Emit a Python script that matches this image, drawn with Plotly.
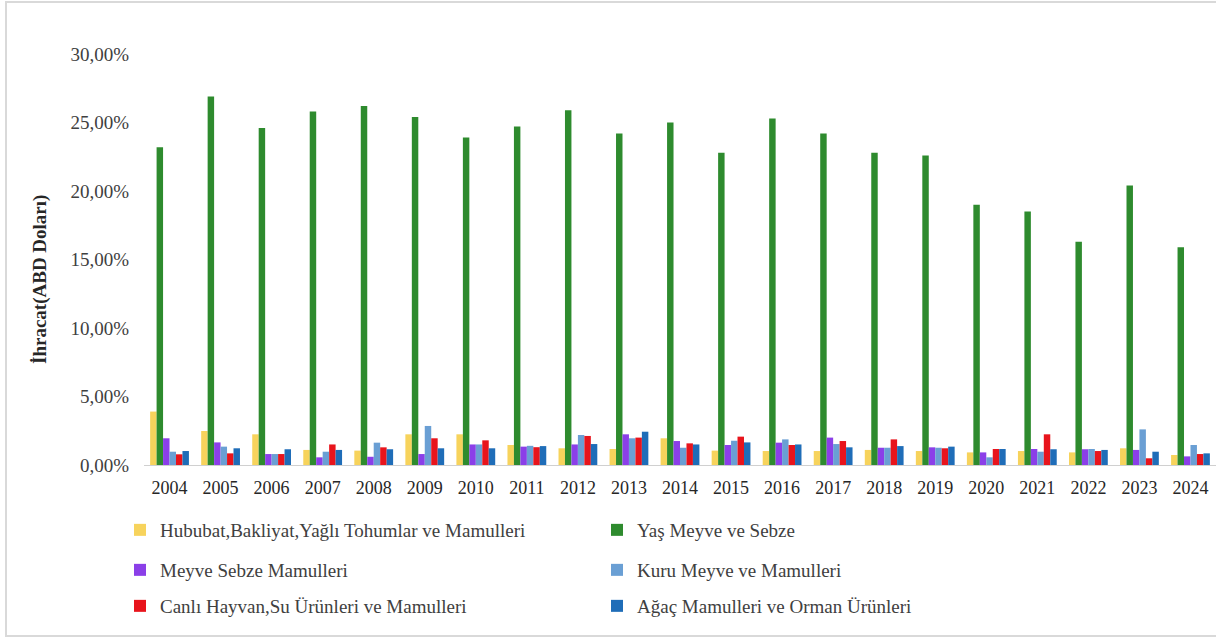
import plotly.graph_objects as go

years = [str(y) for y in range(2004, 2025)]

hububat = [3.9, 2.48, 2.24, 1.1, 1.05, 2.24, 2.24, 1.46, 1.22, 1.17, 1.95, 1.05, 1.02, 1.02, 1.1, 1.02, 0.92, 1.02, 0.92, 1.22, 0.73]
yas_meyve = [23.2, 26.9, 24.6, 25.8, 26.2, 25.4, 23.9, 24.7, 25.9, 24.2, 25.0, 22.8, 25.3, 24.2, 22.8, 22.6, 19.0, 18.5, 16.3, 20.4, 15.9]
meyve_sebze = [1.95, 1.65, 0.8, 0.56, 0.6, 0.8, 1.5, 1.34, 1.5, 2.24, 1.75, 1.46, 1.63, 2.0, 1.26, 1.29, 0.92, 1.17, 1.15, 1.1, 0.63]
kuru_meyve = [0.97, 1.34, 0.8, 0.97, 1.63, 2.85, 1.5, 1.4, 2.19, 1.95, 1.26, 1.77, 1.87, 1.53, 1.26, 1.26, 0.56, 0.97, 1.17, 2.6, 1.46]
canli_hayvan = [0.78, 0.85, 0.8, 1.5, 1.29, 1.95, 1.8, 1.3, 2.12, 2.0, 1.58, 2.07, 1.46, 1.75, 1.87, 1.22, 1.17, 2.24, 1.02, 0.49, 0.8]
agac = [1.02, 1.22, 1.15, 1.1, 1.15, 1.22, 1.22, 1.38, 1.53, 2.43, 1.5, 1.65, 1.5, 1.29, 1.38, 1.34, 1.17, 1.15, 1.1, 0.97, 0.85]

series_names = [
    "Hububat,Bakliyat,Yağlı Tohumlar ve Mamulleri",
    "Yaş Meyve ve Sebze",
    "Meyve Sebze Mamulleri",
    "Kuru Meyve ve Mamulleri",
    "Canlı Hayvan,Su Ürünleri ve Mamulleri",
    "Ağaç Mamulleri ve Orman Ürünleri",
]
series_values = [hububat, yas_meyve, meyve_sebze, kuru_meyve, canli_hayvan, agac]
colors = ["#F7D35C", "#2E8B2E", "#8B3FE8", "#6A9FD4", "#E8141C", "#1F6DB8"]
legend_ids = ["legend", "legend", "legend2", "legend2", "legend3", "legend3"]

ytick_vals = [0, 5, 10, 15, 20, 25, 30]
ytick_text = ["0,00%", "5,00%", "10,00%", "15,00%", "20,00%", "25,00%", "30,00%"]

FONT = "Liberation Serif, Times New Roman, DejaVu Serif, serif"

fig = go.Figure()
for name, vals, col, lg in zip(series_names, series_values, colors, legend_ids):
    fig.add_trace(go.Bar(x=years, y=vals, name=name, marker_color=col,
                         marker_line_width=0, legend=lg))

W, H = 1216, 639
L, T, B = 144, 54, 174
pw = W - L
ph = H - T - B


def px_x(x):
    return (x - L) / pw


def px_y(y):
    return (H - B - y) / ph


legend_common = dict(
    orientation="h", xanchor="left", yanchor="middle",
    x=px_x(120), font=dict(family=FONT, size=19, color="#404040"),
    entrywidth=432, entrywidthmode="pixels",
    bgcolor="rgba(0,0,0,0)", itemclick=False,
)

fig.update_layout(
    width=W, height=H, autosize=False,
    barmode="group", bargap=0.24, bargroupgap=0,
    plot_bgcolor="white", paper_bgcolor="white",
    margin=dict(l=L, r=0, t=T, b=B, pad=0),
    font=dict(family=FONT, size=18, color="#262626"),
    legend=dict(**legend_common, y=px_y(530)),
    legend2=dict(**legend_common, y=px_y(570)),
    legend3=dict(**legend_common, y=px_y(606)),
    xaxis=dict(
        range=[-0.5, 20.5],
        showgrid=False, showline=True, linecolor="#D0D0D0", linewidth=1,
        ticks="", tickfont=dict(family=FONT, size=18, color="#262626"),
        ticklabelstandoff=6,
    ),
    yaxis=dict(
        range=[0, 30], showgrid=False, showline=False, zeroline=False,
        tickvals=ytick_vals, ticktext=ytick_text, ticks="",
        tickfont=dict(family=FONT, size=19, color="#404040"),
        ticklabelstandoff=14,
    ),
    annotations=[dict(
        text="<b>İhracat(ABD Doları)</b>", textangle=-90,
        xref="paper", yref="paper", x=px_x(40), y=px_y(280),
        xanchor="center", yanchor="middle", showarrow=False,
        font=dict(family=FONT, size=19, color="#262626"),
    )],
    shapes=[dict(
        type="path", xref="paper", yref="paper",
        path=(f"M {px_x(1300)},{px_y(2)} L {px_x(6)},{px_y(2)} "
              f"L {px_x(6)},{px_y(636)} L {px_x(1300)},{px_y(636)}"),
        line=dict(color="#D9D9D9", width=2), layer="below",
    )],
)

fig.write_html(
    "out.html",
    config={"displayModeBar": False},
    post_script="document.body.style.margin='0';document.body.style.overflow='hidden';",
)
